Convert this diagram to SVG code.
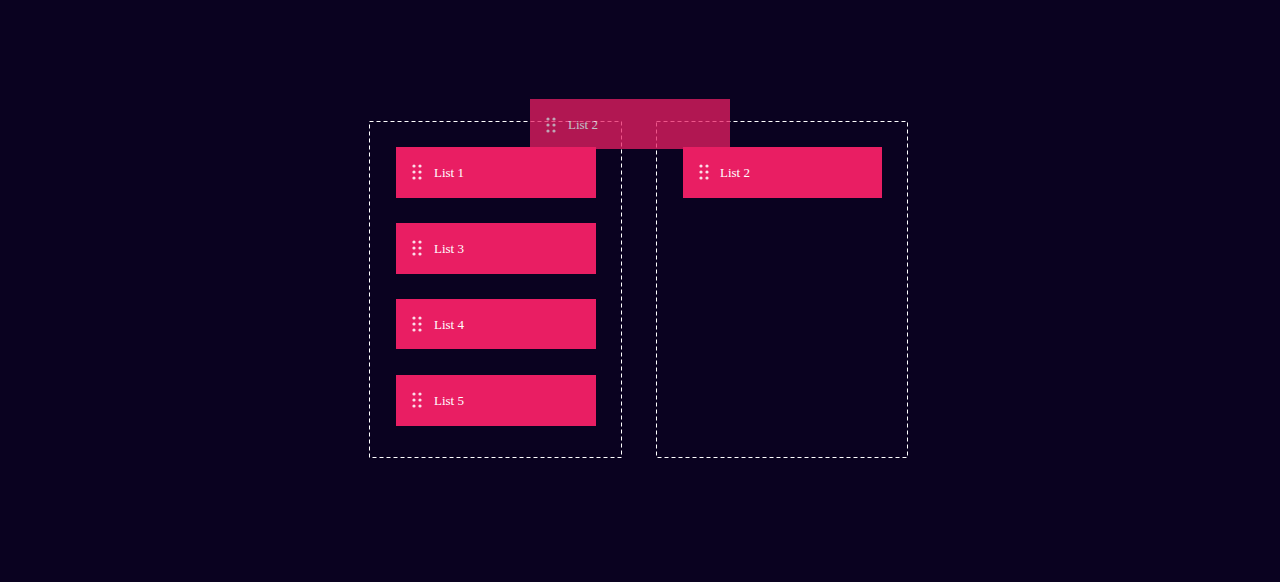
<svg xmlns="http://www.w3.org/2000/svg" width="1280" height="582" viewBox="0 0 1280 582">
<style>
.zone{fill:none;stroke:#ffffff;stroke-width:1;stroke-dasharray:4 3}
.item{fill:#e91e63}
.lbl{font-family:"Liberation Serif","DejaVu Serif",serif;font-size:13px;fill:#ffffff}
.dot{fill:#ffffff;opacity:0.85}
</style>
<defs>
<g id="grip">
<circle class="dot" cx="0" cy="0" r="1.6"/><circle class="dot" cx="6" cy="0" r="1.6"/>
<circle class="dot" cx="0" cy="6" r="1.6"/><circle class="dot" cx="6" cy="6" r="1.6"/>
<circle class="dot" cx="0" cy="12" r="1.6"/><circle class="dot" cx="6" cy="12" r="1.6"/>
</g>
</defs>
<rect width="1280" height="582" fill="#0a0220"/>
<g id="zone-left"><rect class="zone" x="369.5" y="121.5" width="252" height="336"/></g>
<g id="zone-right"><rect class="zone" x="656.5" y="121.5" width="251" height="336"/></g>
<g id="item-list1"><rect class="item" x="396" y="147" width="200" height="51"/><use href="#grip" x="414" y="166"/><text class="lbl" x="434" y="177">List 1</text></g>
<g id="item-list3"><rect class="item" x="396" y="223" width="200" height="51"/><use href="#grip" x="414" y="242"/><text class="lbl" x="434" y="253">List 3</text></g>
<g id="item-list4"><rect class="item" x="396" y="299" width="200" height="50"/><use href="#grip" x="414" y="318"/><text class="lbl" x="434" y="329">List 4</text></g>
<g id="item-list5"><rect class="item" x="396" y="375" width="200" height="51"/><use href="#grip" x="414" y="394"/><text class="lbl" x="434" y="405">List 5</text></g>
<g id="item-list2"><rect class="item" x="683" y="147" width="199" height="51"/><use href="#grip" x="701" y="166"/><text class="lbl" x="720" y="177">List 2</text></g>
<g id="item-list2-drag" opacity="0.75"><rect class="item" x="530" y="99" width="200" height="50"/><use href="#grip" x="548" y="119"/><text class="lbl" x="568" y="129">List 2</text></g>
<g id="connectors"></g>
</svg>
